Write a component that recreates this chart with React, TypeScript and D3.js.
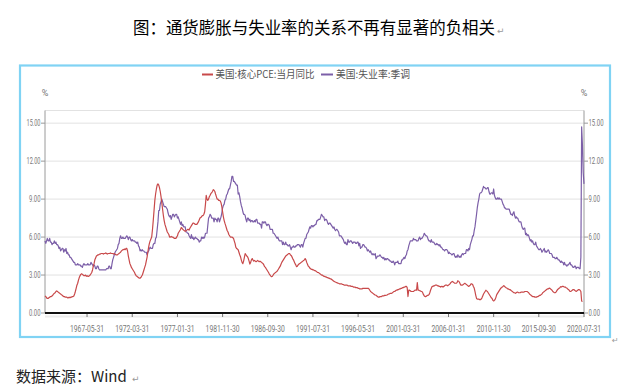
import React from 'react';
import * as d3 from 'd3';

// ---- data (monthly, starting at the month given) ----
const pceStart = '1962-11';
const corePCE: number[] = [
  1.35, 1.3,
  1.2, 1.15, 1.15, 1.2, 1.25, 1.3, 1.3, 1.35, 1.4, 1.5, 1.55, 1.6,
  1.7, 1.75, 1.7, 1.65, 1.6, 1.55, 1.5, 1.45, 1.4, 1.35, 1.3, 1.3,
  1.25, 1.25, 1.25, 1.2, 1.2, 1.25, 1.2, 1.25, 1.25, 1.3, 1.3, 1.35,
  1.5, 1.7, 1.95, 2.2, 2.35, 2.6, 2.8, 2.95, 3.05, 3.1, 3.05, 3.0,
  2.95, 2.95, 3.0, 2.9, 2.95, 2.9, 2.9, 2.95, 3.0, 3.1, 3.2, 3.4,
  3.7, 3.9, 4.2, 4.35, 4.5, 4.55, 4.6, 4.6, 4.65, 4.65, 4.7, 4.7,
  4.7, 4.65, 4.7, 4.7, 4.75, 4.7, 4.65, 4.7, 4.7, 4.7, 4.75, 4.7,
  4.7, 4.7, 4.65, 4.7, 4.65, 4.6, 4.6, 4.6, 4.65, 4.7, 4.75, 4.8,
  4.9, 4.95, 5.0, 5.0, 5.05, 5.0, 5.1, 5.1, 4.9, 4.5, 4.2, 3.9,
  3.75, 3.6, 3.5, 3.4, 3.3, 3.2, 3.05, 2.95, 2.9, 2.85, 2.8, 2.75,
  2.75, 2.8, 2.9, 3.0, 3.2, 3.4, 3.6, 3.8, 4.1, 4.4, 4.8, 5.2,
  5.5, 5.7, 5.85, 6.0, 6.6, 7.3, 8.1, 8.9, 9.4, 9.8, 10.1, 10.2,
  10.1, 9.9, 9.6, 9.2, 8.7, 8.2, 7.7, 7.3, 7.0, 6.8, 6.6, 6.4,
  6.3, 6.2, 6.0, 6.0, 6.05, 6.0, 6.0, 5.95, 5.9, 5.9, 5.9, 6.0,
  6.1, 6.3, 6.4, 6.5, 6.6, 6.75, 6.7, 6.6, 6.55, 6.5, 6.45, 6.5,
  6.55, 6.6, 6.6, 6.55, 6.7, 6.8, 6.9, 7.0, 7.1, 7.1, 7.05, 7.0,
  7.0, 7.0, 7.1, 7.2, 7.35, 7.5, 7.55, 7.6, 7.7, 7.7, 7.8, 8.0,
  8.6, 9.3, 9.0, 8.9, 9.0, 9.2, 9.3, 9.45, 9.5, 9.6, 9.75, 9.7,
  9.6, 9.4, 9.2, 9.0, 9.0, 8.9, 8.9, 8.85, 8.7, 8.4, 8.0, 7.6,
  7.3, 7.1, 6.9, 6.7, 6.5, 6.4, 6.2, 6.1, 6.0, 6.0, 6.0, 5.95,
  5.9, 5.7, 5.5, 5.2, 5.1, 5.05, 5.0, 4.8, 4.6, 4.45, 4.2, 4.0,
  3.9, 4.1, 4.4, 4.7, 4.6, 4.5, 4.45, 4.3, 4.1, 3.87, 4.0, 4.2,
  4.3, 4.2, 4.1, 4.15, 4.1, 4.05, 4.1, 4.15, 4.1, 4.05, 4.1, 4.05,
  4.0, 3.95, 3.9, 3.8, 3.66, 3.6, 3.5, 3.4, 3.3, 3.2, 3.08, 3.0,
  2.9, 2.87, 2.9, 3.0, 3.1, 3.15, 3.2, 3.25, 3.3, 3.4, 3.5, 3.6,
  3.7, 3.85, 4.0, 4.1, 4.2, 4.3, 4.4, 4.5, 4.55, 4.6, 4.65, 4.7,
  4.7, 4.6, 4.55, 4.45, 4.3, 4.2, 4.05, 3.9, 3.8, 3.66, 3.7, 3.8,
  3.87, 3.9, 3.95, 4.0, 4.05, 4.1, 4.15, 4.2, 4.3, 4.2, 4.0, 3.85,
  3.7, 3.65, 3.55, 3.5, 3.45, 3.45, 3.4, 3.4, 3.35, 3.35, 3.3, 3.25,
  3.2, 3.2, 3.15, 3.1, 3.05, 3.0, 3.0, 2.95, 2.9, 2.9, 2.85, 2.85,
  2.8, 2.8, 2.75, 2.75, 2.7, 2.7, 2.65, 2.6, 2.55, 2.5, 2.47, 2.45,
  2.4, 2.4, 2.35, 2.35, 2.3, 2.3, 2.3, 2.3, 2.25, 2.25, 2.2, 2.2,
  2.2, 2.2, 2.2, 2.15, 2.15, 2.15, 2.15, 2.1, 2.1, 2.1, 2.05, 2.05,
  2.05, 2.0, 2.0, 2.0, 1.95, 1.95, 1.9, 1.9, 1.9, 1.9, 1.95, 1.95,
  1.95, 1.95, 1.95, 1.95, 1.95, 1.95, 1.9, 1.8, 1.7, 1.65, 1.6, 1.55,
  1.5, 1.45, 1.42, 1.4, 1.35, 1.3, 1.25, 1.25, 1.3, 1.3, 1.3, 1.35,
  1.35, 1.35, 1.4, 1.4, 1.4, 1.42, 1.45, 1.5, 1.5, 1.55, 1.55, 1.55,
  1.6, 1.65, 1.7, 1.7, 1.76, 1.8, 1.8, 1.85, 1.85, 1.9, 1.9, 1.95,
  1.95, 2.0, 2.0, 2.05, 2.05, 2.1, 2.1, 2.0, 1.3, 1.8, 1.8, 1.76,
  1.7, 1.7, 1.7, 1.7, 1.75, 1.8, 1.8, 1.8, 2.4, 1.8, 1.8, 1.76,
  1.75, 1.7, 1.7, 1.6, 1.45, 1.35, 1.3, 1.3, 1.35, 1.4, 1.4, 1.45,
  1.6, 1.8, 1.95, 2.1, 2.1, 2.15, 2.15, 2.2, 2.2, 2.2, 2.15, 2.15,
  2.1, 2.1, 2.05, 2.1, 2.1, 2.05, 2.1, 2.15, 2.2, 2.2, 2.2, 2.15,
  2.2, 2.25, 2.3, 2.4, 2.45, 2.5, 2.45, 2.4, 2.35, 2.35, 2.35, 2.4,
  2.55, 2.5, 2.45, 2.3, 2.2, 2.2, 2.2, 2.25, 2.3, 2.35, 2.3, 2.25,
  2.2, 2.15, 2.1, 2.15, 2.2, 2.3, 2.3, 2.25, 2.1, 1.97, 1.7, 1.4,
  1.15, 1.1, 1.1, 1.1, 1.05, 1.05, 1.1, 1.2, 1.35, 1.5, 1.6, 1.7,
  1.8, 1.75, 1.7, 1.6, 1.5, 1.4, 1.3, 1.2, 1.15, 1.0, 0.95, 1.0,
  1.1, 1.25, 1.45, 1.55, 1.65, 1.75, 1.85, 1.95, 2.0, 2.05, 2.1, 2.17,
  2.1, 2.05, 2.0, 1.97, 1.9, 1.9, 1.85, 1.85, 1.8, 1.75, 1.7, 1.65,
  1.6, 1.6, 1.55, 1.6, 1.65, 1.65, 1.6, 1.6, 1.6, 1.65, 1.65, 1.65,
  1.65, 1.65, 1.7, 1.7, 1.7, 1.7, 1.65, 1.6, 1.5, 1.45, 1.4, 1.35,
  1.3, 1.3, 1.3, 1.25, 1.25, 1.25, 1.3, 1.3, 1.35, 1.4, 1.4, 1.45,
  1.5, 1.6, 1.65, 1.7, 1.75, 1.8, 1.85, 1.9, 1.9, 1.95, 1.97, 1.9,
  1.85, 1.8, 1.7, 1.65, 1.6, 1.6, 1.65, 1.75, 1.85, 1.9, 1.95, 2.0,
  2.08, 2.05, 2.1, 2.1, 2.08, 2.05, 2.05, 2.0, 1.97, 1.9, 1.85, 1.8,
  1.7, 1.7, 1.75, 1.8, 1.85, 1.85, 1.8, 1.75, 1.7, 1.75, 1.8, 1.85,
  1.85, 1.8, 1.7, 0.95, 0.9,
];

const unempStart = '1962-11';
const unemployment: number[] = [
  5.7, 5.5,
  5.7, 5.9, 5.7, 5.7, 5.9, 5.6, 5.6, 5.4, 5.5, 5.5, 5.7, 5.5,
  5.6, 5.4, 5.4, 5.3, 5.1, 5.2, 4.9, 5.0, 5.1, 5.1, 4.8, 5.0,
  4.9, 5.1, 4.7, 4.8, 4.6, 4.6, 4.4, 4.4, 4.3, 4.2, 4.1, 4.0,
  4.0, 3.8, 3.8, 3.8, 3.9, 3.8, 3.8, 3.8, 3.7, 3.7, 3.6, 3.8,
  3.9, 3.8, 3.8, 3.8, 3.8, 3.9, 3.8, 3.8, 3.8, 4.0, 3.9, 3.8,
  3.7, 3.8, 3.7, 3.5, 3.5, 3.7, 3.7, 3.5, 3.4, 3.4, 3.4, 3.4,
  3.4, 3.4, 3.4, 3.4, 3.4, 3.5, 3.5, 3.5, 3.7, 3.7, 3.5, 3.5,
  3.9, 4.2, 4.4, 4.6, 4.8, 4.9, 5.0, 5.1, 5.4, 5.5, 5.9, 6.1,
  5.9, 5.9, 6.0, 5.9, 5.9, 5.9, 6.0, 6.1, 6.0, 5.8, 6.0, 6.0,
  5.8, 5.7, 5.8, 5.7, 5.7, 5.7, 5.6, 5.6, 5.5, 5.6, 5.3, 5.2,
  4.9, 5.0, 4.9, 5.0, 4.9, 4.9, 4.8, 4.8, 4.8, 4.6, 4.8, 4.9,
  5.1, 5.2, 5.1, 5.1, 5.1, 5.4, 5.5, 5.5, 5.9, 6.0, 6.6, 7.2,
  8.1, 8.1, 8.6, 8.8, 9.0, 8.8, 8.6, 8.4, 8.4, 8.4, 8.3, 8.2,
  7.9, 7.7, 7.6, 7.7, 7.4, 7.6, 7.8, 7.8, 7.6, 7.7, 7.8, 7.8,
  7.5, 7.6, 7.4, 7.2, 7.0, 7.2, 6.9, 7.0, 6.8, 6.8, 6.8, 6.4,
  6.4, 6.3, 6.3, 6.1, 6.0, 5.9, 6.2, 5.9, 6.0, 5.8, 5.9, 6.0,
  5.9, 5.9, 5.8, 5.8, 5.6, 5.7, 5.7, 6.0, 5.9, 6.0, 5.9, 6.0,
  6.3, 6.3, 6.3, 6.9, 7.5, 7.6, 7.8, 7.7, 7.5, 7.5, 7.5, 7.2,
  7.5, 7.4, 7.4, 7.2, 7.5, 7.5, 7.2, 7.4, 7.6, 7.9, 8.3, 8.5,
  8.6, 8.9, 9.0, 9.3, 9.4, 9.6, 9.8, 9.8, 10.1, 10.4, 10.8, 10.8,
  10.4, 10.4, 10.3, 10.2, 10.1, 10.1, 9.4, 9.5, 9.2, 8.8, 8.5, 8.3,
  8.0, 7.8, 7.8, 7.7, 7.4, 7.2, 7.5, 7.5, 7.3, 7.4, 7.2, 7.3,
  7.3, 7.2, 7.2, 7.3, 7.2, 7.4, 7.4, 7.1, 7.1, 7.1, 7.0, 7.0,
  6.7, 7.2, 7.2, 7.1, 7.2, 7.2, 7.0, 6.9, 7.0, 7.0, 6.9, 6.6,
  6.6, 6.6, 6.6, 6.3, 6.3, 6.2, 6.1, 6.0, 5.9, 6.0, 5.8, 5.7,
  5.7, 5.7, 5.7, 5.4, 5.6, 5.4, 5.4, 5.6, 5.4, 5.4, 5.3, 5.3,
  5.4, 5.2, 5.0, 5.2, 5.2, 5.3, 5.2, 5.2, 5.3, 5.3, 5.4, 5.4,
  5.4, 5.3, 5.2, 5.4, 5.4, 5.2, 5.5, 5.7, 5.9, 5.9, 6.2, 6.3,
  6.4, 6.6, 6.8, 6.7, 6.9, 6.9, 6.8, 6.9, 6.9, 7.0, 7.0, 7.3,
  7.3, 7.4, 7.4, 7.4, 7.6, 7.8, 7.7, 7.6, 7.6, 7.3, 7.4, 7.4,
  7.3, 7.1, 7.0, 7.1, 7.1, 7.0, 6.9, 6.8, 6.7, 6.8, 6.6, 6.5,
  6.6, 6.6, 6.5, 6.4, 6.1, 6.1, 6.1, 6.0, 5.9, 5.8, 5.6, 5.5,
  5.6, 5.4, 5.4, 5.8, 5.6, 5.6, 5.7, 5.7, 5.6, 5.5, 5.6, 5.6,
  5.6, 5.5, 5.5, 5.6, 5.6, 5.3, 5.5, 5.1, 5.2, 5.2, 5.4, 5.4,
  5.3, 5.2, 5.2, 5.1, 4.9, 5.0, 4.9, 4.8, 4.9, 4.7, 4.6, 4.7,
  4.6, 4.6, 4.7, 4.3, 4.4, 4.5, 4.5, 4.5, 4.6, 4.5, 4.4, 4.4,
  4.3, 4.4, 4.2, 4.3, 4.2, 4.3, 4.3, 4.2, 4.2, 4.1, 4.1, 4.0,
  4.0, 4.1, 4.0, 3.8, 4.0, 4.0, 4.0, 4.1, 3.9, 3.9, 3.9, 3.9,
  4.2, 4.2, 4.3, 4.4, 4.3, 4.5, 4.6, 4.9, 5.0, 5.3, 5.5, 5.7,
  5.7, 5.7, 5.7, 5.9, 5.8, 5.8, 5.8, 5.7, 5.7, 5.7, 5.9, 6.0,
  5.8, 5.9, 5.9, 6.0, 6.1, 6.3, 6.2, 6.1, 6.1, 6.0, 5.8, 5.7,
  5.7, 5.6, 5.8, 5.6, 5.6, 5.6, 5.5, 5.4, 5.4, 5.5, 5.4, 5.4,
  5.3, 5.4, 5.2, 5.2, 5.1, 5.0, 5.0, 4.9, 5.0, 5.0, 5.0, 4.9,
  4.7, 4.8, 4.7, 4.7, 4.6, 4.6, 4.7, 4.7, 4.5, 4.4, 4.5, 4.4,
  4.6, 4.5, 4.4, 4.5, 4.4, 4.6, 4.7, 4.6, 4.7, 4.7, 4.7, 5.0,
  5.0, 4.9, 5.1, 5.0, 5.4, 5.6, 5.8, 6.1, 6.1, 6.5, 6.8, 7.3,
  7.8, 8.3, 8.7, 9.0, 9.4, 9.5, 9.5, 9.6, 9.8, 10.0, 9.9, 9.9,
  9.8, 9.8, 9.9, 9.9, 9.6, 9.4, 9.4, 9.5, 9.5, 9.4, 9.8, 9.3,
  9.1, 9.0, 9.0, 9.1, 9.0, 9.1, 9.0, 9.0, 9.0, 8.8, 8.6, 8.5,
  8.3, 8.3, 8.2, 8.2, 8.2, 8.2, 8.2, 8.0, 7.8, 7.8, 7.7, 7.9,
  8.0, 7.7, 7.5, 7.6, 7.5, 7.5, 7.3, 7.2, 7.2, 7.2, 6.9, 6.7,
  6.6, 6.7, 6.7, 6.2, 6.3, 6.1, 6.2, 6.1, 5.9, 5.7, 5.8, 5.6,
  5.7, 5.5, 5.4, 5.4, 5.6, 5.3, 5.2, 5.1, 5.0, 5.0, 5.1, 5.0,
  4.8, 4.9, 5.0, 5.1, 4.8, 4.9, 4.8, 4.9, 5.0, 4.9, 4.7, 4.7,
  4.7, 4.6, 4.4, 4.4, 4.4, 4.3, 4.3, 4.4, 4.3, 4.2, 4.2, 4.1,
  4.0, 4.1, 4.0, 4.0, 3.8, 4.0, 3.8, 3.8, 3.7, 3.8, 3.8, 3.9,
  4.0, 3.8, 3.8, 3.7, 3.6, 3.6, 3.7, 3.7, 3.5, 3.6, 3.6, 3.6,
  3.5, 3.5, 4.4, 14.7, 13.3, 11.1, 10.2,
];

const xDomain = ['1962-11-30', '2020-07-31'];
const xTickLabels = [
  '1967-05-31', '1972-03-31', '1977-01-31', '1981-11-30', '1986-09-30', '1991-07-31',
  '1996-05-31', '2001-03-31', '2006-01-31', '2010-11-30', '2015-09-30', '2020-07-31',
];
const yTicks = [0, 3, 6, 9, 12, 15];
const yMax = 16;
const seriesNames = ['美国:核心PCE:当月同比', '美国:失业率:季调'];
const seriesColors = ['#c8494a', '#7c5fa8'];
const titleText = '图：通货膨胀与失业率的关系不再有显著的负相关';
const sourceText = '数据来源：Wind';

const parse = d3.timeParse('%Y-%m-%d');

function monthEnd(start: string, i: number): Date {
  const [y, m] = start.split('-').map(Number);
  return new Date(y, m - 1 + i + 1, 0);
}

export default function App() {
  const W = 633, H = 390;
  const left = 45, right = 584, top = 110.5, bottom = 313;
  const x = d3.scaleTime()
    .domain(xDomain.map((s) => parse(s) as Date))
    .range([left, right]);
  const y = d3.scaleLinear().domain([0, yMax]).range([bottom, top]);

  const pceLine = d3.line<number>()
    .x((_, i) => x(monthEnd(pceStart, i)))
    .y((d) => y(d));
  const unLine = d3.line<number>()
    .x((_, i) => x(monthEnd(unempStart, i)))
    .y((d) => y(d));

  const numFont = 'Roboto, "Liberation Sans", sans-serif';
  const cjk = '"Noto Sans CJK SC", "Noto Sans", sans-serif';
  const fmt = d3.format('.2f');

  return (
    <div style={{ position: 'absolute', left: 0, top: 0 }}>
      <svg width={W} height={H} style={{ display: 'block', background: '#fff' }}>
        {/* title */}
        <text x={133} y={34} fontFamily={cjk} fontSize={16.5} fill="#000" textLength={362} lengthAdjust="spacingAndGlyphs">
          {titleText}
        </text>
        <text x={497} y={34} fontFamily='"DejaVu Sans", sans-serif' fontSize={9} fill="#999">↵</text>

        {/* chart frame */}
        <rect x={20} y={65.5} width={590} height={271.5} fill="none" stroke="#80d3f4" strokeWidth={2.2} />
        <text x={612} y={343} fontFamily='"DejaVu Sans", sans-serif' fontSize={8} fill="#999">↵</text>

        {/* legend */}
        <line x1={202} x2={213} y1={74.5} y2={74.5} stroke={seriesColors[0]} strokeWidth={2} />
        <text x={215.5} y={78.3} fontFamily={cjk} fontSize={10} fill="#555" textLength={99} lengthAdjust="spacingAndGlyphs">
          {seriesNames[0]}
        </text>
        <line x1={321} x2={333} y1={74.5} y2={74.5} stroke={seriesColors[1]} strokeWidth={2} />
        <text x={336} y={78.3} fontFamily={cjk} fontSize={10} fill="#555" textLength={74} lengthAdjust="spacingAndGlyphs">
          {seriesNames[1]}
        </text>

        {/* unit labels */}
        <text x={left} y={96} fontFamily={numFont} fontSize={9} fill="#777" textAnchor="middle">%</text>
        <text x={right} y={96} fontFamily={numFont} fontSize={9} fill="#777" textAnchor="middle">%</text>

        {/* grid */}
        {[...yTicks, yMax].map((t) => (
          <line key={'g' + t} x1={left} x2={right} y1={y(t)} y2={y(t)} stroke="#e2e2e2" strokeWidth={1} />
        ))}
        <line x1={left} x2={right} y1={bottom + 3.5} y2={bottom + 3.5} stroke="#ececec" strokeWidth={2} />

        {/* y axes */}
        <line x1={left} x2={left} y1={top} y2={bottom} stroke="#9a9a9a" strokeWidth={1} />
        <line x1={right} x2={right} y1={top} y2={bottom} stroke="#9a9a9a" strokeWidth={1} />
        {yTicks.map((t) => (
          <g key={'yt' + t}>
            <line x1={left - 4} x2={left} y1={y(t)} y2={y(t)} stroke="#9a9a9a" />
            <line x1={right} x2={right + 4} y1={y(t)} y2={y(t)} stroke="#9a9a9a" />
            <text x={left - 4.5} y={y(t) + 3} fontFamily={numFont} fontSize={9} fill="#777" textAnchor="end"
              textLength={t >= 10 ? 14 : 11.5} lengthAdjust="spacingAndGlyphs">{fmt(t)}</text>
            <text x={right + 4.5} y={y(t) + 3} fontFamily={numFont} fontSize={9} fill="#777" textAnchor="start"
              textLength={t >= 10 ? 15 : 11.5} lengthAdjust="spacingAndGlyphs">{fmt(t)}</text>
          </g>
        ))}

        {/* x axis */}
        {xTickLabels.map((s) => {
          const xx = x(parse(s) as Date);
          return (
            <g key={s}>
              <line x1={xx} x2={xx} y1={bottom} y2={bottom + 4} stroke="#777" strokeWidth={1} />
              <text x={xx} y={331.5} fontFamily={numFont} fontSize={9} fill="#777" textAnchor="middle"
                textLength={34} lengthAdjust="spacingAndGlyphs">{s}</text>
            </g>
          );
        })}

        {/* series */}
        <path d={unLine(unemployment) || ''} fill="none" stroke={seriesColors[1]} strokeWidth={1.2} strokeLinejoin="round" />
        <path d={pceLine(corePCE) || ''} fill="none" stroke={seriesColors[0]} strokeWidth={1.2} strokeLinejoin="round" />

        <line x1={left} x2={right} y1={bottom} y2={bottom} stroke="#111" strokeWidth={1.8} />

        {/* source */}
        <text x={16} y={382} fontFamily={cjk} fontSize={15} fill="#222">{sourceText}</text>
        <text x={132} y={382} fontFamily='"DejaVu Sans", sans-serif' fontSize={9} fill="#999">↵</text>
      </svg>
    </div>
  );
}
